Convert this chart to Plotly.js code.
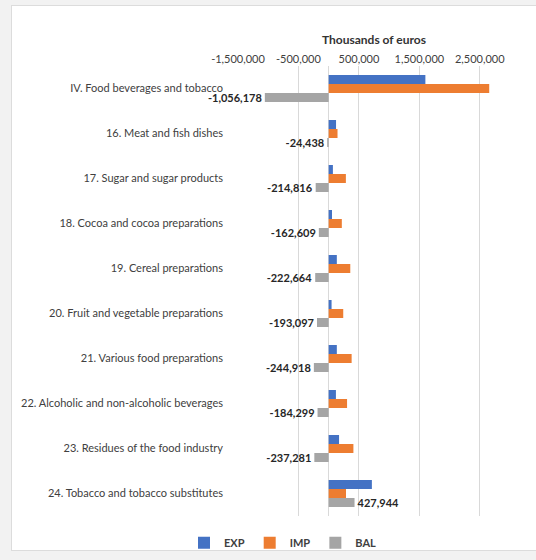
<!DOCTYPE html>
<html>
<head>
<meta charset="utf-8">
<script src="https://cdn.plot.ly/plotly-3.0.1.min.js"></script>
<style>
  html, body { margin:0; padding:0; width:536px; height:560px; overflow:hidden; background:#f2f2f2; }
  #frame { position:absolute; left:11px; top:5px; width:542px; height:546px; background:#fff; border:1px solid #dcdcdc; box-sizing:border-box; }
  #chart { position:absolute; left:0; top:0; width:542px; height:546px; }
</style>
</head>
<body>
<div id="frame"><div id="chart"></div></div>
<script>
const categories = [
  "IV. Food beverages and tobacco",
  "16. Meat and fish dishes",
  "17. Sugar and sugar products",
  "18. Cocoa and cocoa preparations",
  "19. Cereal preparations",
  "20. Fruit and vegetable preparations",
  "21. Various food preparations",
  "22. Alcoholic and non-alcoholic beverages",
  "23. Residues of the food industry",
  "24. Tobacco and tobacco substitutes"
];
const exp = [1600000, 122000, 70000, 55000, 135000, 48000, 135000, 120000, 172000, 715000];
const imp = [2656178, 146438, 284816, 217609, 357664, 241097, 379918, 304299, 409281, 287056];
const bal = [-1056178, -24438, -214816, -162609, -222664, -193097, -244918, -184299, -237281, 427944];
const tickVals = [-1500000, -500000, 500000, 1500000, 2500000];
const tickText = ["-1,500,000", "-500,000", "500,000", "1,500,000", "2,500,000"];

const fmt = v => (v < 0 ? "-" : "") + Math.abs(v).toLocaleString("en-US");
const FONT = "Lato, 'Open Sans', sans-serif";

const traces = [
  { type:"bar", orientation:"h", name:"EXP", y:categories, x:exp, marker:{color:"#4472C4"}, hoverinfo:"x+name" },
  { type:"bar", orientation:"h", name:"IMP", y:categories, x:imp, marker:{color:"#ED7D31"}, hoverinfo:"x+name" },
  { type:"bar", orientation:"h", name:"BAL", y:categories, x:bal, marker:{color:"#A5A5A5"},
    text: bal.map(fmt), textposition:"outside", constraintext:"none", cliponaxis:false,
    textfont:{family:FONT, size:11, color:"#262626", weight:"bold"}, hoverinfo:"x+name" }
];

const layout = {
  width:542, height:546,
  margin:{l:226, r:44, t:60, b:36},
  paper_bgcolor:"rgba(0,0,0,0)", plot_bgcolor:"#fff",
  font:{family:FONT, size:11, color:"#404040"},
  barmode:"group", bargap:0.4, bargroupgap:0,
  xaxis:{
    side:"top", range:[-1500000, 3000000], tickvals:tickVals, ticktext:tickText,
    showgrid:true, gridcolor:"#d9d9d9", gridwidth:1,
    zeroline:true, zerolinecolor:"#d9d9d9", zerolinewidth:1,
    showline:false, ticks:"", tickfont:{size:11, color:"#404040"},
    title:{text:"Thousands of euros", font:{size:12, color:"#333333", weight:"bold"}, standoff:4},
    fixedrange:true
  },
  yaxis:{
    type:"category", autorange:"reversed", showgrid:false, zeroline:false, showline:false,
    ticks:"", ticklabelstandoff:14, tickfont:{size:11, color:"#404040"}, fixedrange:true
  },
  showlegend:true,
  legend:{orientation:"h", xref:"container", x:0.5, xanchor:"center", yref:"container", y:0.017, yanchor:"middle",
    font:{size:11, color:"#404040", weight:"bold"}, itemwidth:30, traceorder:"normal"}
};

Plotly.newPlot("chart", traces, layout, {displayModeBar:false, staticPlot:true});
</script>
</body>
</html>
